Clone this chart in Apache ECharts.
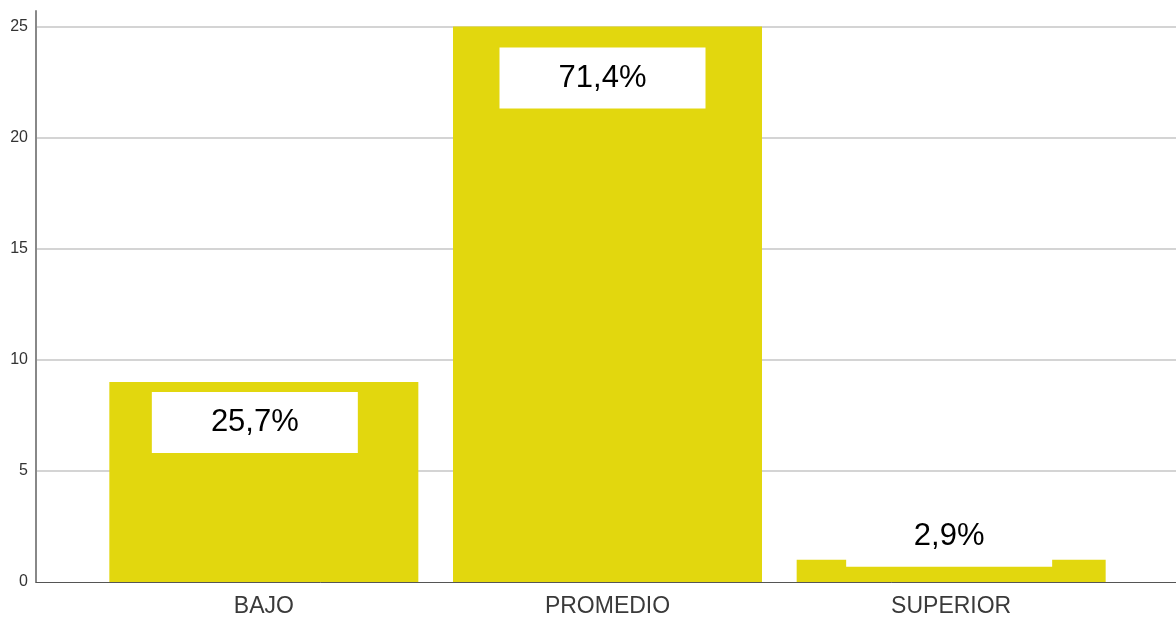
<!DOCTYPE html>
<html>
<head>
<meta charset="utf-8">
<script src="https://cdn.jsdelivr.net/npm/echarts@6/dist/echarts.min.js"></script>
<style>
  html, body { margin: 0; padding: 0; background: #fff; }
  #chart { width: 1176px; height: 619px; }
</style>
</head>
<body>
<div id="chart"></div>
<script>
const categories = ['BAJO', 'PROMEDIO', 'SUPERIOR']
const counts = [9, 25, 1]
const percentLabels = ['25,7%', '71,4%', '2,9%']
const yTicks = [0, 5, 10, 15, 20, 25]

const yMax = 25.7
const barColor = '#e2d70e'
const fontStack = 'Liberation Sans, Arial, sans-serif'

// label box placement per bar (the source tool does not centre them exactly)
const labelPlacement = [
  { position: 'insideTop', distance: 10, offset: [-9, 0] },
  { position: 'insideTop', distance: 21, offset: [-5, 0] },
  { position: 'top', distance: -7, offset: [-2, 0] }
]

const chart = echarts.init(document.getElementById('chart'))

const barData = counts.map((v, i) => ({
  value: v,
  label: labelPlacement[i]
}))

const option = {
  animation: false,
  grid: [
    { left: 36, right: 0, top: 11, bottom: 37 },
    { left: 92, right: 53, top: 11, bottom: 37 }
  ],
  xAxis: [
    {
      gridIndex: 0,
      type: 'value',
      min: 0,
      max: 1,
      axisLine: { show: true, onZero: false, lineStyle: { color: '#555', width: 1 } },
      axisTick: { show: false },
      axisLabel: { show: false },
      splitLine: { show: false }
    },
    {
      gridIndex: 1,
      type: 'category',
      data: categories,
      axisLine: { show: false },
      axisTick: { show: false },
      axisLabel: {
        color: '#3a3a3a',
        fontFamily: fontStack,
        fontSize: 23,
        margin: 13
      }
    }
  ],
  yAxis: [
    {
      gridIndex: 0,
      type: 'value',
      min: 0,
      max: yMax,
      interval: 5,
      axisLine: { show: true, lineStyle: { color: '#888', width: 2 } },
      axisTick: { show: false },
      axisLabel: {
        showMaxLabel: false,
        color: '#333',
        fontFamily: fontStack,
        fontSize: 16,
        margin: 8,
        formatter: v => (yTicks.includes(v) ? String(v) : '')
      },
      splitLine: { show: true, showMaxLine: false, showMinLine: false, lineStyle: { color: '#d4d4d4', width: 2 } }
    },
    {
      gridIndex: 1,
      type: 'value',
      min: 0,
      max: yMax,
      interval: 5,
      show: false,
      splitLine: { show: false }
    }
  ],
  series: [
    {
      type: 'bar',
      xAxisIndex: 1,
      yAxisIndex: 1,
      data: barData,
      barWidth: 309,
      itemStyle: { color: barColor },
      label: {
        show: true,
        formatter: p => percentLabels[p.dataIndex],
        backgroundColor: '#fff',
        width: 206,
        height: 61,
        lineHeight: 61,
        padding: 0,
        align: 'center',
        color: '#000',
        fontFamily: fontStack,
        fontSize: 31
      }
    }
  ]
}

chart.setOption(option)
</script>
</body>
</html>
